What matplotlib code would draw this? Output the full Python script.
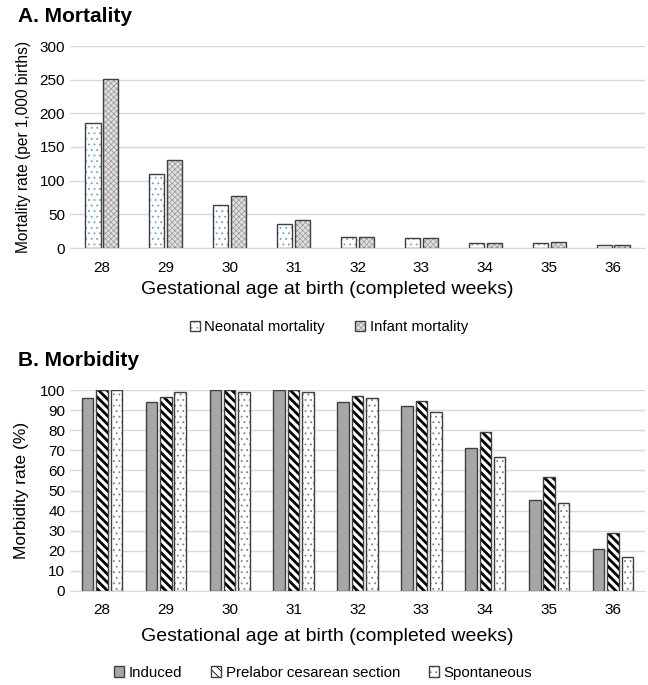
import numpy as np
import matplotlib.pyplot as plt

plt.rcParams['font.family'] = ['Liberation Sans', 'DejaVu Sans']

weeks = ['28', '29', '30', '31', '32', '33', '34', '35', '36']

# A. mortality per 1,000 births
neonatal = [185, 110, 64, 36, 16, 14.5, 7, 7, 4]
infant = [251, 130, 77, 41, 16, 15, 7, 8.5, 4]

# B. morbidity (%)
induced = [96, 94, 100, 100, 94, 92, 71, 45.5, 21]
prelabor = [100, 96.5, 100, 100, 97, 94.5, 79, 56.5, 29]
spontaneous = [100, 99, 99, 99, 96, 89, 66.5, 44, 17]

edge = '#404040'
grid_c = '#d9d9d9'


def hatch_col(bars, c):
    # bar() ties hatch colour to edge colour, so set it afterwards
    for p in bars:
        p._hatch_color = c


fig = plt.figure(figsize=(6.48, 6.85), dpi=100)
ax1 = fig.add_axes([70/648, 1 - 248/685, 575/648, 202/685])
ax2 = fig.add_axes([70/648, 1 - 591/685, 575/648, 201/685])

x = np.arange(len(weeks))

# ---- top panel
w = 0.235
g = 0.045
plt.rcParams['hatch.linewidth'] = 0.6
b1 = ax1.bar(x - (w + g)/2, neonatal, w, color='white', edgecolor=edge,
             linewidth=1, hatch='...', label='Neonatal mortality')
hatch_col(b1, (0.45, 0.62, 0.78, 1))
plt.rcParams['hatch.linewidth'] = 0.5
b2 = ax1.bar(x + (w + g)/2, infant, w, color='#e0e0e0', edgecolor=edge,
             linewidth=1, hatch='xxxxxx', label='Infant mortality')
hatch_col(b2, (0.6, 0.6, 0.6, 1))

ax1.set_ylim(0, 300)
ax1.set_yticks(range(0, 301, 50))
ax1.set_xlim(-0.5, len(weeks) - 0.5)
ax1.set_xticks(x)
ax1.set_xticklabels(weeks)
ax1.set_ylabel('Mortality rate (per 1,000 births)', fontsize=11.2, labelpad=6)
ax1.set_xlabel('Gestational age at birth (completed weeks)', fontsize=14)
ax1.xaxis.set_label_coords(0.447, -0.165)
ax1.legend(loc='upper center', bbox_to_anchor=(0.45, -0.29), ncol=2,
           frameon=False, fontsize=10.7, handlelength=0.7, handleheight=0.7,
           columnspacing=2.0, handletextpad=0.3)
fig.text(18/648, 1 - 17/685, 'A. Mortality', fontsize=15, fontweight='bold', va='center')

# ---- bottom panel
w2 = 0.18
g2 = 0.045
step = w2 + g2
ax2.bar(x - step, induced, w2, color='#a6a6a6', edgecolor=edge, linewidth=1,
        label='Induced')
plt.rcParams['hatch.linewidth'] = 2.0
bp = ax2.bar(x, prelabor, w2, color='white', edgecolor=edge, linewidth=1,
             hatch='\\\\\\\\', label='Prelabor cesarean section')
hatch_col(bp, (0, 0, 0, 1))
plt.rcParams['hatch.linewidth'] = 0.6
bs = ax2.bar(x + step, spontaneous, w2, color='white', edgecolor=edge, linewidth=1,
             hatch='...', label='Spontaneous')
hatch_col(bs, (0.5, 0.5, 0.5, 1))

ax2.set_ylim(0, 100)
ax2.set_yticks(range(0, 101, 10))
ax2.set_xlim(-0.5, len(weeks) - 0.5)
ax2.set_xticks(x)
ax2.set_xticklabels(weeks)
ax2.set_ylabel('Morbidity rate (%)', fontsize=12.5, labelpad=8)
ax2.set_xlabel('Gestational age at birth (completed weeks)', fontsize=14)
ax2.xaxis.set_label_coords(0.447, -0.185)
ax2.legend(loc='upper center', bbox_to_anchor=(0.44, -0.305), ncol=3,
           frameon=False, fontsize=10.8, handlelength=0.7, handleheight=0.7,
           columnspacing=1.9, handletextpad=0.3)
fig.text(18/648, 1 - 361/685, 'B. Morbidity', fontsize=15, fontweight='bold', va='center')

for ax in (ax1, ax2):
    ax.set_axisbelow(True)
    ax.yaxis.grid(True, color=grid_c, linewidth=1)
    for s in ['top', 'right', 'left']:
        ax.spines[s].set_visible(False)
    ax.spines['bottom'].set_color(grid_c)
    ax.tick_params(axis='both', length=0, labelsize=11)
    ax.tick_params(axis='x', pad=9)

fig.savefig('out.png', dpi=100)
